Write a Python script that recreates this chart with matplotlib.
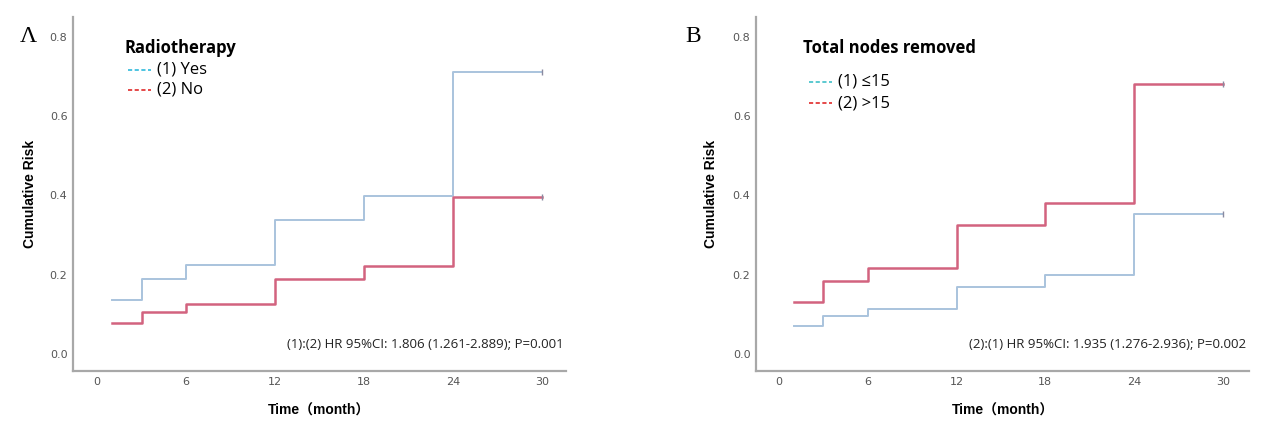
import numpy as np
import matplotlib
matplotlib.use('Agg')
import matplotlib.pyplot as plt
from matplotlib.lines import Line2D

# step times (months) and cumulative risk at each step
times = [1, 3, 6, 12, 18, 24, 30]

risk_a_yes = [0.136, 0.190, 0.224, 0.338, 0.398, 0.711, 0.711]
risk_a_no = [0.078, 0.106, 0.126, 0.189, 0.222, 0.397, 0.397]

risk_b_le15 = [0.071, 0.096, 0.113, 0.169, 0.199, 0.353, 0.353]
risk_b_gt15 = [0.131, 0.184, 0.217, 0.325, 0.382, 0.681, 0.681]

xticks = [0, 6, 12, 18, 24, 30]
yticks = [0.0, 0.2, 0.4, 0.6, 0.8]

curve_blue = '#a9c3dd'
curve_red = '#d2637f'
leg_blue = '#2fbadc'
leg_red = '#e02a2a'
axis_gray = '#a8a8a8'

panels = [
    dict(letter='Λ', letx=20, left=73, right=566, xlim=(-1.62, 31.62),
         title='Radiotherapy', labels=['(1) Yes', '(2) No'],
         series=[risk_a_yes, risk_a_no], colors=[curve_blue, curve_red],
         legcolors=[leg_blue, leg_red],
         hr='(1):(2) HR 95%CI: 1.806 (1.261-2.889); P=0.001', hrx=564,
         tx=125, ty=48, ey=[70, 90], lx=128, ylab_x=37),
    dict(letter='B', letx=685, left=756, right=1249, xlim=(-1.55, 31.76),
         title='Total nodes removed', labels=['(1) ≤15', '(2) >15'],
         series=[risk_b_le15, risk_b_gt15], colors=[curve_blue, curve_red],
         legcolors=['#3fc0c8', leg_red],
         hr='(2):(1) HR 95%CI: 1.935 (1.276-2.936); P=0.002', hrx=1246,
         tx=803, ty=48, ey=[82, 103], lx=809, ylab_x=718),
]

W, H = 1269, 434
fig = plt.figure(figsize=(W / 100, H / 100), dpi=100)

for p in panels:
    ax = fig.add_axes([p['left'] / W, (H - 371) / H,
                       (p['right'] - p['left']) / W, (371 - 17) / H])
    ax.set_xlim(*p['xlim'])
    ax.set_ylim(-0.043, 0.85)
    for s in ['top', 'right']:
        ax.spines[s].set_visible(False)
    for s in ['left', 'bottom']:
        ax.spines[s].set_color(axis_gray)
        ax.spines[s].set_linewidth(1.6)
    ax.set_xticks(xticks)
    ax.set_yticks(yticks)
    ax.set_yticklabels(['%.1f' % v for v in yticks])
    ax.tick_params(length=0, labelsize=8, labelcolor='#555555', pad=4)

    for vals, col, lw in zip(p['series'], p['colors'], [1.4, 1.8]):
        ax.step(times, vals, where='post', color=col, lw=lw)
        ax.plot([times[-1]], [vals[-1]], marker='|', ms=5, color='#8a8aa0', mew=1)

    ax.set_xlabel('Time（month）', fontsize=10, fontweight='bold',
                  family=['Liberation Sans', 'Noto Sans CJK SC'], labelpad=12)
    ax.set_ylabel('Cumulative Risk', fontsize=10, fontweight='bold',
                  family='Liberation Sans')
    ax.yaxis.set_label_coords((p['ylab_x'] - p['left']) / (p['right'] - p['left']), 0.5)

    # legend drawn as text + dashed lines (figure pixel coords)
    fig.text(p['tx'] / W, 1 - p['ty'] / H, p['title'], fontsize=12,
             fontweight='bold', family='Open Sans', va='center', ha='left')
    for lab, col, yy in zip(p['labels'], p['legcolors'], p['ey']):
        fig.add_artist(Line2D([p['lx'] / W, (p['lx'] + 23) / W],
                              [1 - yy / H, 1 - yy / H], color=col, lw=1.2,
                              ls=(0, (2.5, 1.5)), transform=fig.transFigure))
        fig.text((p['lx'] + 29) / W, 1 - yy / H, lab, fontsize=12,
                 family=['Open Sans', 'DejaVu Sans'], va='center', ha='left')

    fig.text(p['hrx'] / W, 1 - 345 / H, p['hr'], fontsize=9.5,
             family='Open Sans', ha='right', va='center', color='#222222')

    fig.text(p['letx'] / W, 1 - 36 / H, p['letter'], fontsize=17,
             family='Liberation Serif', ha='left', va='center')

fig.savefig('out.png', dpi=100)
